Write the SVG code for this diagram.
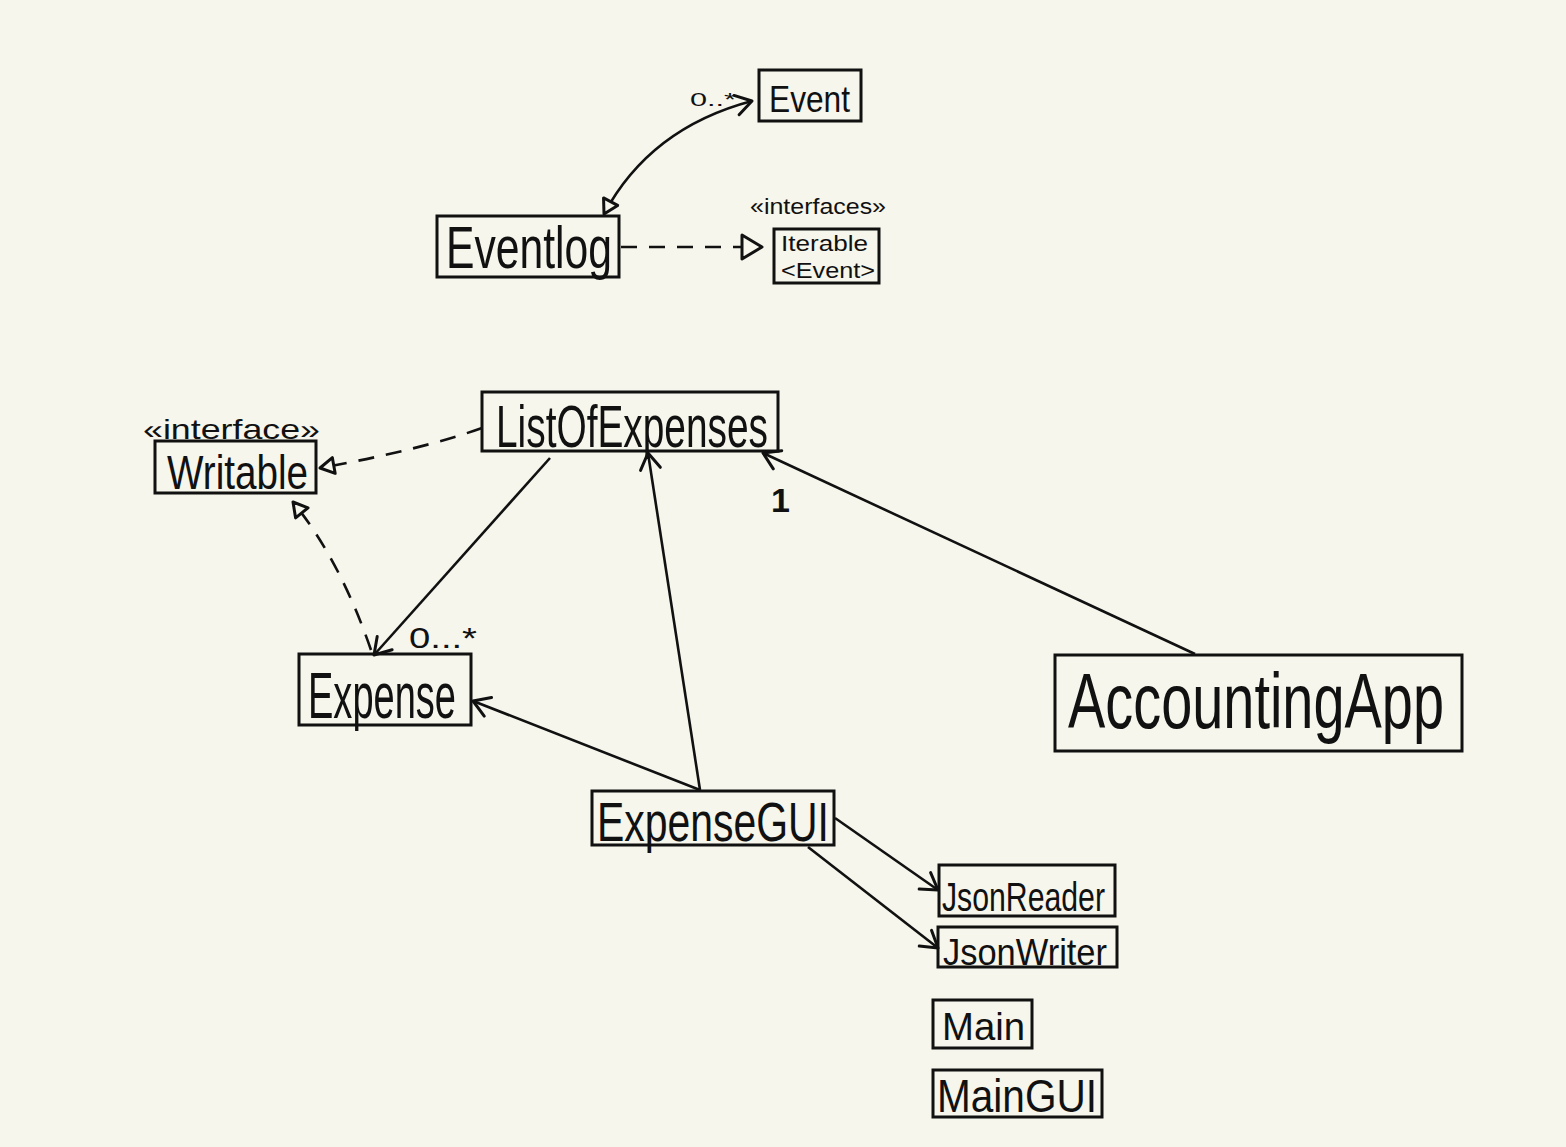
<svg xmlns="http://www.w3.org/2000/svg" width="1566" height="1147" viewBox="0 0 1566 1147">
<defs>
<style>
.box{fill:none;stroke:#111;stroke-width:3}
.t{font-family:"Liberation Sans Narrow","Liberation Sans",sans-serif;fill:#111}
.c{fill:none;stroke:#111;stroke-width:2.6}
.d{stroke-dasharray:16 12}
</style>
<marker id="open" markerUnits="userSpaceOnUse" markerWidth="40" markerHeight="40" viewBox="-20 -20 40 40" refX="0" refY="0" orient="auto" overflow="visible">
<path d="M-16,-10 L0,0 L-16,10" fill="none" stroke="#111" stroke-width="3" stroke-linecap="round" stroke-linejoin="round"/>
</marker>
<marker id="tri" markerUnits="userSpaceOnUse" markerWidth="40" markerHeight="40" viewBox="-30 -20 40 40" refX="0" refY="0" orient="auto-start-reverse" overflow="visible">
<path d="M-20,-12 L0,0 L-20,12 Z" fill="#f6f6ec" stroke="#111" stroke-width="3" stroke-linejoin="round"/>
</marker>
<marker id="triS" markerUnits="userSpaceOnUse" markerWidth="30" markerHeight="30" viewBox="-20 -15 30 30" refX="0" refY="0" orient="auto-start-reverse" overflow="visible">
<path d="M-14,-8 L0,0 L-14,8 Z" fill="#f6f6ec" stroke="#111" stroke-width="3" stroke-linejoin="round"/>
</marker>
</defs>
<rect width="1566" height="1147" fill="#f6f6ec"/>

<g id="connectors">
<path class="c" d="M604,214 Q650,128 752,101" marker-start="url(#triS)" marker-end="url(#open)"/>
<line class="c d" x1="621" y1="247" x2="762" y2="247" marker-end="url(#tri)"/>
<path class="c d" d="M482,428 Q420,450 320,468" marker-end="url(#triS)"/>
<path class="c d" d="M371,650 Q340,560 293,502" marker-end="url(#triS)"/>
<line class="c" x1="550" y1="458" x2="374" y2="655" marker-end="url(#open)"/>
<line class="c" x1="700" y1="790" x2="648" y2="453" marker-end="url(#open)"/>
<line class="c" x1="700" y1="790" x2="473" y2="701" marker-end="url(#open)"/>
<line class="c" x1="1195" y1="654" x2="763" y2="453" marker-end="url(#open)"/>
<line class="c" x1="835" y1="818" x2="938" y2="890" marker-end="url(#open)"/>
<line class="c" x1="808" y1="847" x2="938" y2="948" marker-end="url(#open)"/>
<text class="t" x="690" y="106" font-size="19" textLength="46" lengthAdjust="spacingAndGlyphs">0..*</text>
<text class="t" x="409" y="648" font-size="30" textLength="68" lengthAdjust="spacingAndGlyphs">0...*</text>
<text class="t" x="771" y="512" font-size="34" font-weight="bold">1</text>
</g>

<g id="Event">
<rect class="box" x="759" y="70" width="102" height="51"/>
<text class="t" x="769" y="112" font-size="36" textLength="81" lengthAdjust="spacingAndGlyphs">Event</text>
</g>
<g id="Eventlog">
<rect class="box" x="437" y="216" width="182" height="61"/>
<text class="t" x="446" y="268" font-size="60" textLength="166" lengthAdjust="spacingAndGlyphs">Eventlog</text>
</g>
<g id="Iterable">
<text class="t" x="750" y="214" font-size="22" textLength="136" lengthAdjust="spacingAndGlyphs">«interfaces»</text>
<rect class="box" x="774" y="229" width="105" height="54"/>
<text class="t" x="781" y="251" font-size="22" textLength="87" lengthAdjust="spacingAndGlyphs">Iterable</text>
<text class="t" x="781" y="278" font-size="22" textLength="94" lengthAdjust="spacingAndGlyphs">&lt;Event&gt;</text>
</g>
<g id="ListOfExpenses">
<rect class="box" x="482" y="392" width="296" height="59"/>
<text class="t" x="496" y="447" font-size="60" textLength="272" lengthAdjust="spacingAndGlyphs">ListOfExpenses</text>
</g>
<g id="Writable">
<text class="t" x="143" y="439" font-size="28" textLength="177" lengthAdjust="spacingAndGlyphs">«interface»</text>
<rect class="box" x="155" y="441" width="161" height="52"/>
<text class="t" x="167" y="489" font-size="48" textLength="141" lengthAdjust="spacingAndGlyphs">Writable</text>
</g>
<g id="Expense">
<rect class="box" x="299" y="654" width="172" height="71"/>
<text class="t" x="308" y="718" font-size="64" textLength="148" lengthAdjust="spacingAndGlyphs">Expense</text>
</g>
<g id="ExpenseGUI">
<rect class="box" x="592" y="791" width="242" height="54"/>
<text class="t" x="597" y="841" font-size="56" textLength="232" lengthAdjust="spacingAndGlyphs">ExpenseGUI</text>
</g>
<g id="AccountingApp">
<rect class="box" x="1055" y="655" width="407" height="96"/>
<text class="t" transform="translate(1068,728) scale(1,1.15)" x="0" y="0" font-size="68" textLength="376" lengthAdjust="spacingAndGlyphs">AccountingApp</text>
</g>
<g id="JsonReader">
<rect class="box" x="939" y="865" width="176" height="51"/>
<text class="t" x="942" y="911" font-size="40" textLength="163" lengthAdjust="spacingAndGlyphs">JsonReader</text>
</g>
<g id="JsonWriter">
<rect class="box" x="938" y="927" width="179" height="40"/>
<text class="t" x="943" y="965" font-size="36" textLength="164" lengthAdjust="spacingAndGlyphs">JsonWriter</text>
</g>
<g id="Main">
<rect class="box" x="933" y="1000" width="99" height="48"/>
<text class="t" x="942" y="1040" font-size="38" textLength="83" lengthAdjust="spacingAndGlyphs">Main</text>
</g>
<g id="MainGUI">
<rect class="box" x="933" y="1070" width="169" height="47"/>
<text class="t" x="937" y="1112" font-size="46" textLength="160" lengthAdjust="spacingAndGlyphs">MainGUI</text>
</g>
</svg>
